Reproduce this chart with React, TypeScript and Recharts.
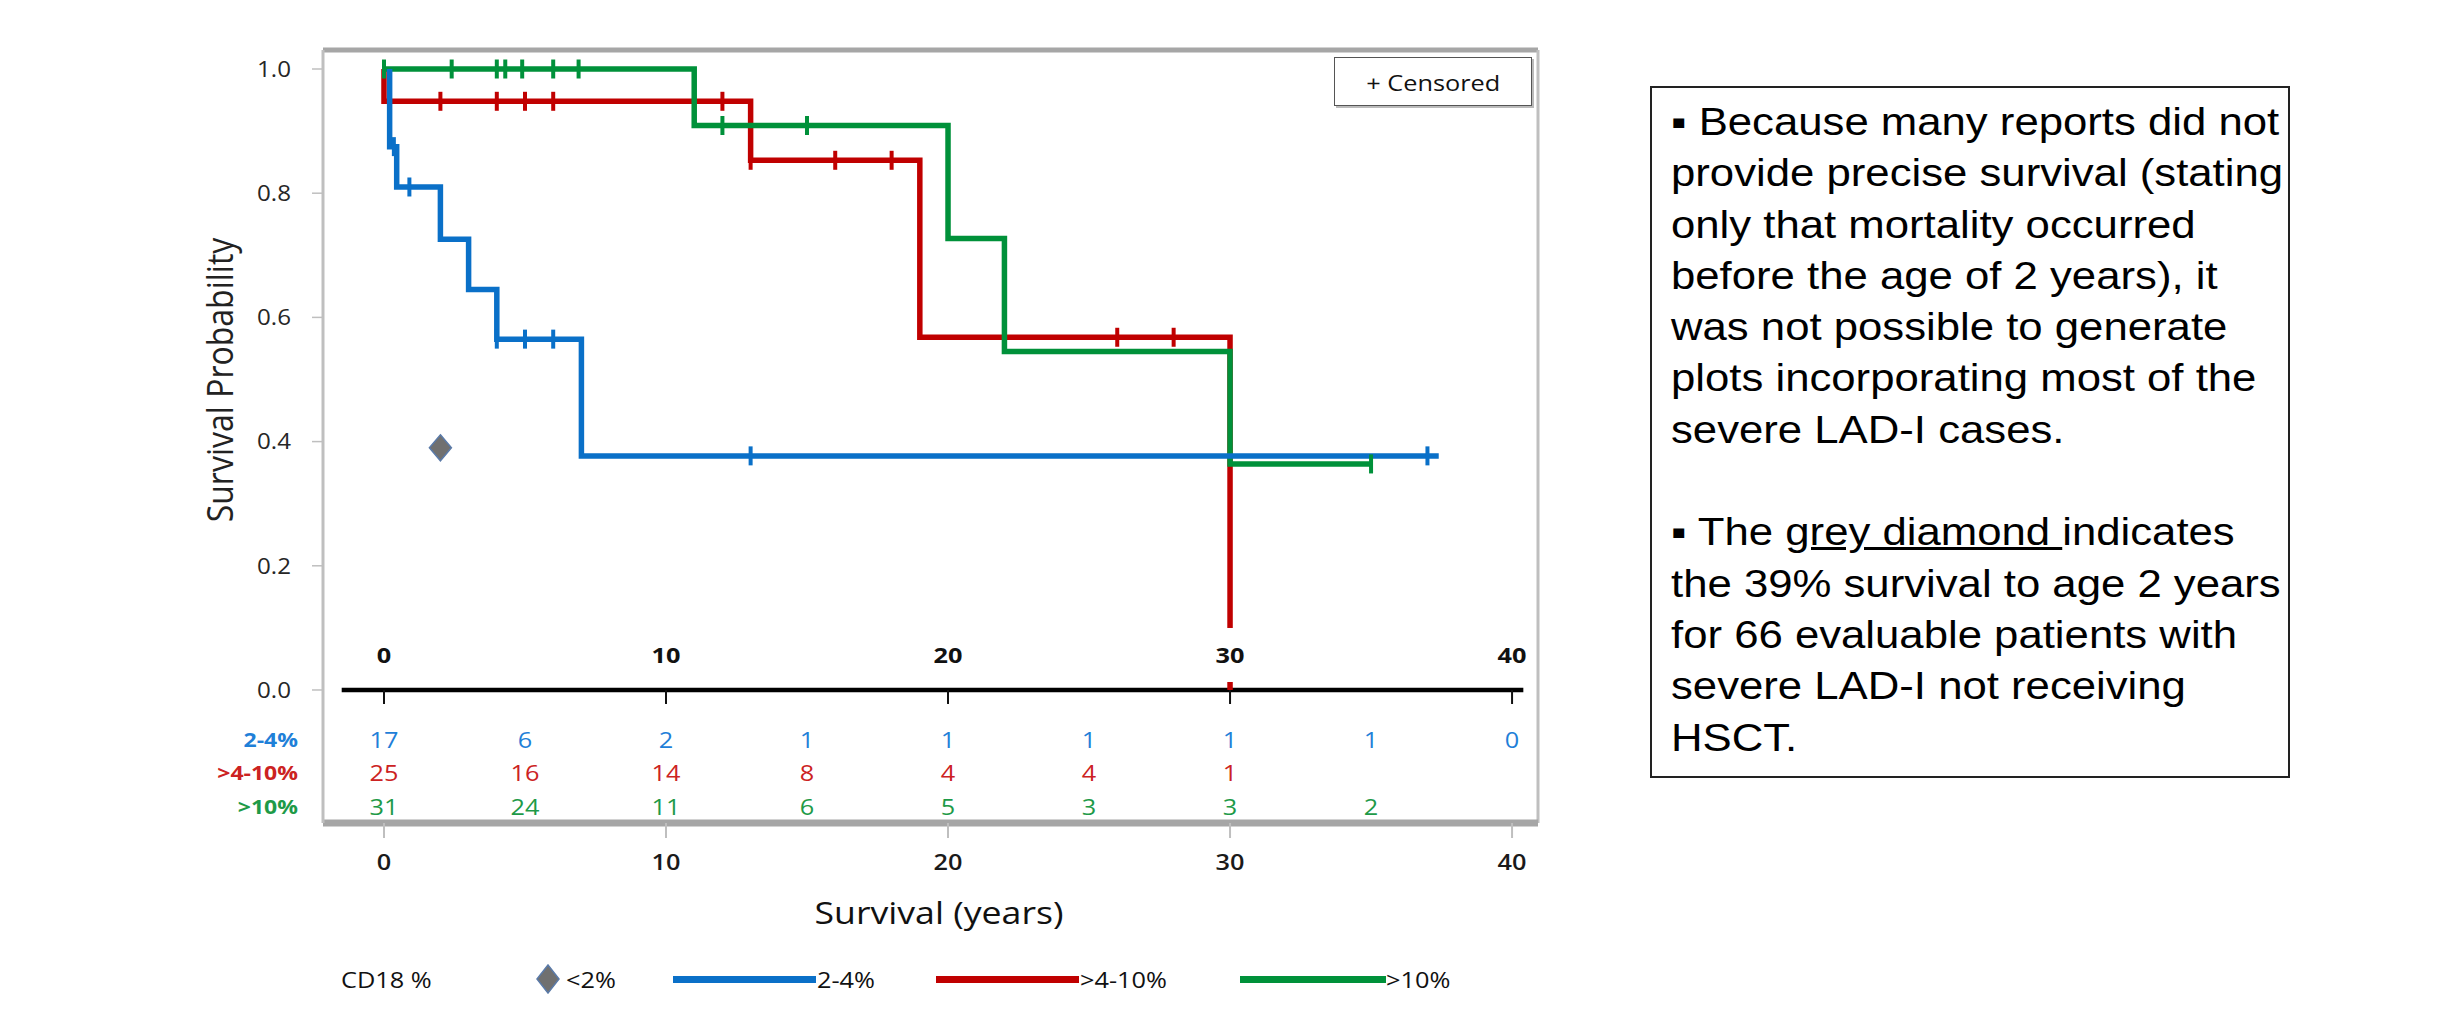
import React from "react";
import { ComposedChart, Line, Scatter, XAxis, YAxis, ReferenceLine } from "recharts";

// Kaplan-Meier steps for each CD18 group: time in years, survival probability
const BLUE_TIMES = [0.2, 0.2, 0.45, 2, 3, 4, 7, 37.4];
const BLUE_SURV = [1, 0.875, 0.81, 0.726, 0.645, 0.565, 0.377, 0.377];
const RED_TIMES = [0, 0, 13, 19, 30];
const RED_SURV = [1, 0.948, 0.853, 0.568, 0];
const GREEN_TIMES = [0, 11, 20, 22, 30, 35];
const GREEN_SURV = [1, 0.909, 0.727, 0.545, 0.364, 0.364];

// censored observations
const BLUE_CENS_T = [0.35, 0.9, 4, 5, 6, 13, 37];
const BLUE_CENS_S = [0.875, 0.81, 0.565, 0.565, 0.565, 0.377, 0.377];
const RED_CENS_T = [2, 4, 5, 6, 12, 13, 16, 18, 26, 28];
const RED_CENS_S = [0.948, 0.948, 0.948, 0.948, 0.948, 0.853, 0.853, 0.853, 0.568, 0.568];
const GREEN_CENS_T = [0, 2.4, 4, 4.3, 4.9, 6, 6.9, 12, 15, 35];
const GREEN_CENS_S = [1, 1, 1, 1, 1, 1, 1, 0.909, 0.909, 0.364];

// severe LAD-I without HSCT: survival to age 2
const DIAMOND_T = [2];
const DIAMOND_S = [0.39];

// numbers at risk
const RISK_TIMES = [0, 5, 10, 15, 20, 25, 30, 35, 40];
const BLUE_RISK = [17, 6, 2, 1, 1, 1, 1, 1, 0];
const RED_RISK = [25, 16, 14, 8, 4, 4, 1];
const GREEN_RISK = [31, 24, 11, 6, 5, 3, 3, 2];

const X_TICKS = [0, 10, 20, 30, 40];
const Y_TICKS = [0, 0.2, 0.4, 0.6, 0.8, 1.0];
const GROUP_LABELS = ["2-4%", ">4-10%", ">10%"];

const X_MIN = -2.163;
const X_MAX = 40.92;
const Y_MIN = -0.2142;
const Y_MAX = 1.0306;

const BLUE = "#0A70C8";
const RED = "#C00000";
const GREEN = "#00913A";
const BLUE_TXT = "#1F80D8";
const RED_TXT = "#CC2222";
const GREEN_TXT = "#1E9A48";
const FRAME = "#A6A6A6";
const LINE_W = 5.5;

const FONT = '"Open Sans", sans-serif';
const STRETCH = 1.15;

const steps = (ts: number[], ss: number[]) => ts.map((t, i) => ({ t, s: ss[i] }));
const counts = (ns: number[]) => ns.map((n, i) => ({ t: RISK_TIMES[i], n }));

const blueSteps = steps(BLUE_TIMES, BLUE_SURV);
const redSteps = steps(RED_TIMES, RED_SURV);
const greenSteps = steps(GREEN_TIMES, GREEN_SURV);
const blueCens = steps(BLUE_CENS_T, BLUE_CENS_S);
const redCens = steps(RED_CENS_T, RED_CENS_S);
const greenCens = steps(GREEN_CENS_T, GREEN_CENS_S);
const diamond = steps(DIAMOND_T, DIAMOND_S);
const innerTicks = X_TICKS.map((t) => ({ t }));

const stretched = (x: number, y: number) => `translate(${x},${y}) scale(${STRETCH},1)`;

const YTick = ({ x, y, payload }: any) => (
  <text transform={stretched(x - 19, y)} textAnchor="end" dominantBaseline="central"
    fontFamily={FONT} fontSize={21} fill="#262626">
    {Number(payload.value).toFixed(1)}
  </text>
);

const XTick = ({ x, y, payload }: any) => (
  <text transform={stretched(x, y + 22)} textAnchor="middle" dominantBaseline="central"
    fontFamily={FONT} fontSize={22} fontWeight={600} fill="#1a1a1a">
    {payload.value}
  </text>
);

const censorMark = (color: string) => (p: any) => (
  <line x1={p.cx} x2={p.cx} y1={p.cy - 9.5} y2={p.cy + 9.5} stroke={color} strokeWidth={4} />
);

const DiamondShape = (p: any) => (
  <polygon points={`${p.cx},${p.cy - 13} ${p.cx + 11},${p.cy} ${p.cx},${p.cy + 13} ${p.cx - 11},${p.cy}`}
    fill="#707070" stroke="#5A7AA8" strokeWidth={1.5} />
);

// year axis drawn across the plot at survival 0, labels sit above it
const InnerTick = (p: any) => (
  <g>
    <rect x={p.cx - 22} y={p.cy - 62} width={44} height={54} fill="#fff" />
    <line x1={p.cx} x2={p.cx} y1={p.cy} y2={p.cy + 14} stroke="#111" strokeWidth={2} />
    <text transform={stretched(p.cx, p.cy - 35)} textAnchor="middle" dominantBaseline="central"
      fontFamily={FONT} fontSize={22} fontWeight={700} fill="#111">
      {p.payload.t}
    </text>
  </g>
);

const riskText = (color: string, offset: number) => (p: any) => (
  <text transform={stretched(p.cx, p.cy + offset)} textAnchor="middle" dominantBaseline="central"
    fontFamily={FONT} fontSize={22} fill={color}>
    {p.payload.n}
  </text>
);

const zero = () => 0;

const txt = (extra: React.CSSProperties): React.CSSProperties => ({
  position: "absolute",
  fontFamily: FONT,
  whiteSpace: "nowrap",
  ...extra,
});

function Legend() {
  const swatch = (left: number, width: number, color: string) => (
    <div style={{ position: "absolute", left, top: 976, width, height: 7, background: color }} />
  );
  const label = (left: number, text: string) => (
    <div style={txt({ left, top: 962, fontSize: 22, lineHeight: "34px", color: "#111",
      transform: `scaleX(${STRETCH})`, transformOrigin: "left center" })}>{text}</div>
  );
  return (
    <>
      {label(341, "CD18 %")}
      <svg style={{ position: "absolute", left: 535, top: 964 }} width={26} height={30}>
        <polygon points="13,1 24,15 13,29 2,15" fill="#707070" stroke="#5A7AA8" strokeWidth={1.5} />
      </svg>
      {label(566, "<2%")}
      {swatch(673, 143, BLUE)}
      {label(817, GROUP_LABELS[0])}
      {swatch(936, 143, RED)}
      {label(1080, GROUP_LABELS[1])}
      {swatch(1240, 146, GREEN)}
      {label(1386, GROUP_LABELS[2])}
    </>
  );
}

function NoteBox() {
  const lines: React.ReactNode[] = [
    "▪ Because many reports did not",
    "provide precise survival (stating",
    "only that mortality occurred",
    "before the age of 2 years), it",
    "was not possible to generate",
    "plots incorporating most of the",
    "severe LAD-I cases.",
    "\u00a0",
    <>▪ The <span style={{ textDecoration: "underline" }}>grey diamond </span>indicates</>,
    "the 39% survival to age 2 years",
    "for 66 evaluable patients with",
    "severe LAD-I not receiving",
    "HSCT.",
  ];
  return (
    <div style={{ position: "absolute", left: 1650, top: 86, width: 636, height: 688,
      border: "2px solid #222", boxSizing: "content-box" }}>
      <div style={{ position: "absolute", left: 19, top: 9, fontFamily: '"Liberation Sans", Arial, sans-serif',
        fontSize: 38, lineHeight: "51.3px", color: "#000", whiteSpace: "nowrap",
        transform: `scaleX(${STRETCH})`, transformOrigin: "left top" }}>
        {lines.map((l, i) => <div key={i}>{l}</div>)}
      </div>
    </div>
  );
}

export default function App() {
  const rowColors = [BLUE_TXT, RED_TXT, GREEN_TXT];
  const rowY = [740, 773, 807];
  return (
    <div style={{ position: "absolute", left: 0, top: 0, width: 2457, height: 1023, background: "#fff", overflow: "hidden" }}>
      <ComposedChart width={1600} height={1023} margin={{ top: 50, right: 62, bottom: 140, left: 243 }}
        style={{ position: "absolute", left: 0, top: 0 }}>
        <XAxis type="number" dataKey="t" domain={[X_MIN, X_MAX]} ticks={X_TICKS} allowDataOverflow
          height={60} axisLine={{ stroke: FRAME, strokeWidth: 7 }} tickLine={{ stroke: "#BFBFBF", strokeWidth: 2 }}
          tickSize={15} tick={<XTick />} />
        <YAxis type="number" domain={[Y_MIN, Y_MAX]} ticks={Y_TICKS} allowDataOverflow width={80}
          axisLine={{ stroke: "#BFBFBF", strokeWidth: 3 }} tickLine={{ stroke: "#BFBFBF", strokeWidth: 1.5 }}
          tickSize={11} tick={<YTick />} />

        {/* plot frame */}
        <ReferenceLine y={Y_MAX} stroke={FRAME} strokeWidth={5} />
        <ReferenceLine x={X_MAX} stroke="#BFBFBF" strokeWidth={3} />
        <ReferenceLine segment={[{ x: -1.5, y: 0 }, { x: 40.4, y: 0 }]} stroke="#000" strokeWidth={4.5} />

        <Line data={redSteps} dataKey="s" type="stepAfter" stroke={RED} strokeWidth={LINE_W} dot={false} activeDot={false} isAnimationActive={false} />
        <Line data={greenSteps} dataKey="s" type="stepAfter" stroke={GREEN} strokeWidth={LINE_W} dot={false} activeDot={false} isAnimationActive={false} />
        <Line data={blueSteps} dataKey="s" type="stepAfter" stroke={BLUE} strokeWidth={LINE_W} dot={false} activeDot={false} isAnimationActive={false} />

        <Scatter data={redCens} dataKey="s" shape={censorMark(RED)} isAnimationActive={false} />
        <Scatter data={greenCens} dataKey="s" shape={censorMark(GREEN)} isAnimationActive={false} />
        <Scatter data={blueCens} dataKey="s" shape={censorMark(BLUE)} isAnimationActive={false} />
        <Scatter data={diamond} dataKey="s" shape={DiamondShape} isAnimationActive={false} />

        <Scatter data={innerTicks} dataKey={zero} shape={InnerTick} isAnimationActive={false} />
        <Scatter data={counts(BLUE_RISK)} dataKey={zero} shape={riskText(BLUE_TXT, 50)} isAnimationActive={false} />
        <Scatter data={counts(RED_RISK)} dataKey={zero} shape={riskText(RED_TXT, 83)} isAnimationActive={false} />
        <Scatter data={counts(GREEN_RISK)} dataKey={zero} shape={riskText(GREEN_TXT, 117)} isAnimationActive={false} />
      </ComposedChart>

      {/* group labels for the numbers-at-risk rows */}
      {GROUP_LABELS.map((g, i) => (
        <div key={g} style={txt({ left: 0, width: 298, top: rowY[i] - 15, lineHeight: "30px", textAlign: "right",
          fontSize: 20, fontWeight: 700, color: rowColors[i], transform: `scaleX(${STRETCH})`, transformOrigin: "right center" })}>
          {g}
        </div>
      ))}

      <div style={txt({ left: 219 - 200, top: 380 - 22, width: 400, lineHeight: "44px", textAlign: "center",
        fontSize: 32, color: "#222", transform: "rotate(-90deg) scaleY(1.15)" })}>
        Survival Probability
      </div>

      <div style={txt({ left: 939 - 200, top: 912 - 22, width: 400, lineHeight: "44px", textAlign: "center",
        fontSize: 31, color: "#111", transform: `scaleX(${STRETCH})` })}>
        Survival (years)
      </div>

      <div style={{ position: "absolute", left: 1334, top: 57, width: 196, height: 47, border: "1.5px solid #555",
        boxShadow: "2px 2px 0 #BBB", background: "#fff", display: "flex", alignItems: "center", justifyContent: "center" }}>
        <span style={{ fontFamily: FONT, fontSize: 22, color: "#111", transform: `scaleX(${STRETCH})` }}>+ Censored</span>
      </div>

      <Legend />
      <NoteBox />
    </div>
  );
}
